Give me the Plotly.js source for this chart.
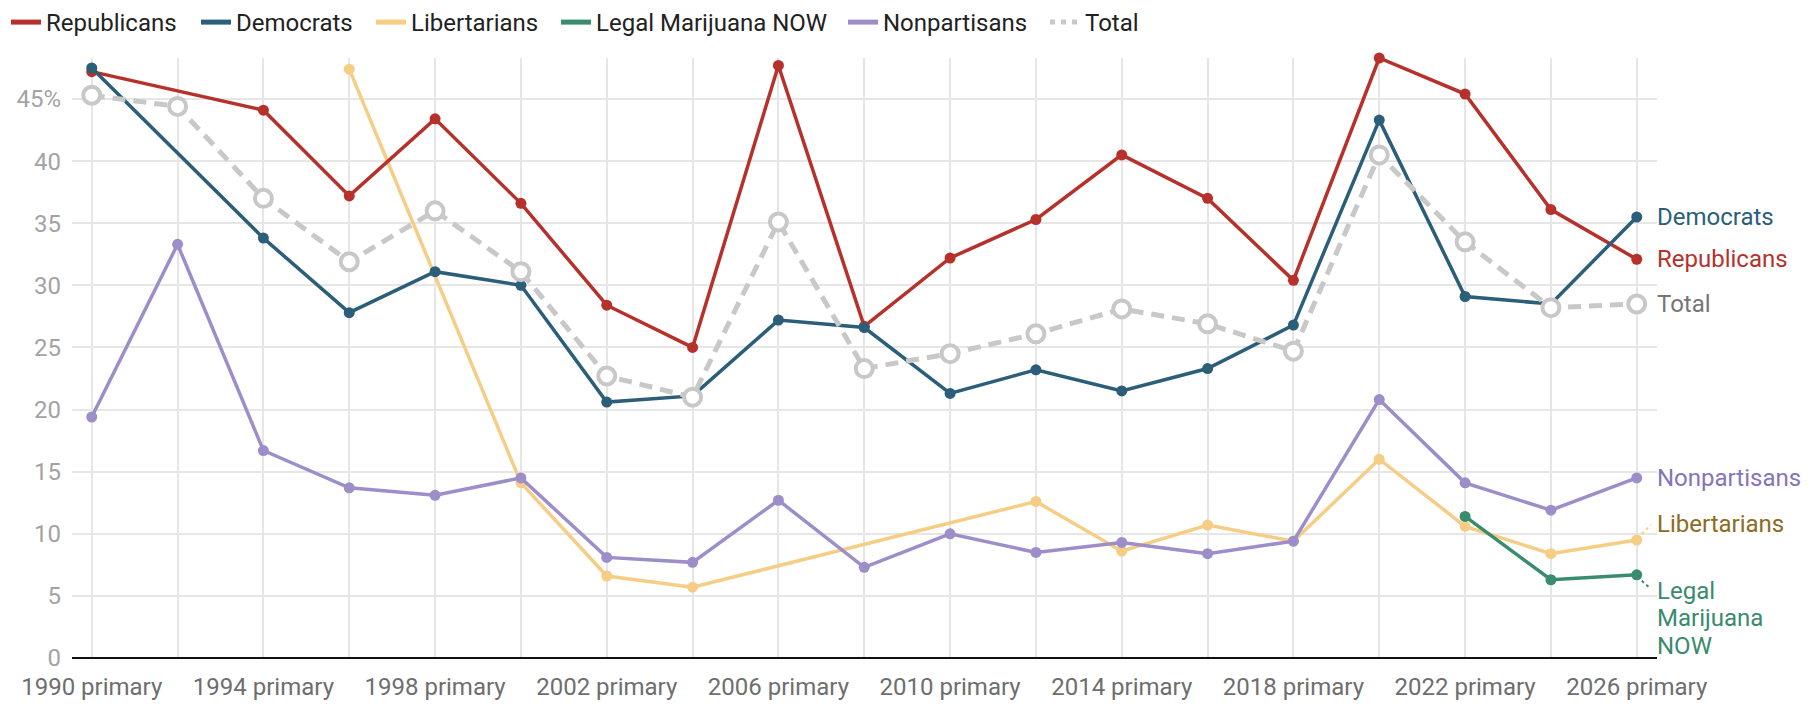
<!DOCTYPE html>
<html>
<head>
<meta charset="utf-8">
<script src="https://cdn.plot.ly/plotly-3.0.1.min.js"></script>
<style>
html,body{margin:0;padding:0;background:#fff;}
#chart{width:1816px;height:712px;}
</style>
</head>
<body>
<div id="chart"></div>
<script>
// ---- data ----
const categories = ["1990 primary","1992 primary","1994 primary","1996 primary","1998 primary","2000 primary","2002 primary","2004 primary","2006 primary","2008 primary","2010 primary","2012 primary","2014 primary","2016 primary","2018 primary","2020 primary","2022 primary","2024 primary","2026 primary"];
const tickLabels = ["1990 primary","","1994 primary","","1998 primary","","2002 primary","","2006 primary","","2010 primary","","2014 primary","","2018 primary","","2022 primary","","2026 primary"];
const republicans = [47.2,null,44.1,37.2,43.4,36.6,28.4,25.0,47.7,26.7,32.2,35.3,40.5,37.0,30.4,48.3,45.4,36.1,32.1];
const democrats   = [47.5,null,33.8,27.8,31.1,30.0,20.6,21.1,27.2,26.6,21.3,23.2,21.5,23.3,26.8,43.3,29.1,28.5,35.5];
const libertarians = [null,null,null,47.4,null,14.1,6.6,5.7,null,null,null,12.6,8.6,10.7,9.4,16.0,10.6,8.4,9.5];
const legalMarijuana = [null,null,null,null,null,null,null,null,null,null,null,null,null,null,null,null,11.4,6.3,6.7];
const nonpartisans = [19.4,33.3,16.7,13.7,13.1,14.5,8.1,7.7,12.7,7.3,10.0,8.5,9.3,8.4,9.4,20.8,14.1,11.9,14.5];
const total = [45.3,44.4,37.0,31.9,36.0,31.1,22.7,21.0,35.1,23.3,24.5,26.1,28.1,26.9,24.7,40.5,33.5,28.2,28.5];
const yTickVals = [0,5,10,15,20,25,30,35,40,45];
const yTickText = ["0","5","10","15","20","25","30","35","40","45%"];

// ---- styles ----
const FONT = "Roboto, 'Open Sans', sans-serif";
const series = [
  {name:"Libertarians", y:libertarians, color:"#f6cd84"},
  {name:"Legal Marijuana NOW", y:legalMarijuana, color:"#3a8c6f"},
  {name:"Nonpartisans", y:nonpartisans, color:"#9d8ec9"},
  {name:"Republicans", y:republicans, color:"#b7312c"},
  {name:"Democrats", y:democrats, color:"#2b5e79"}
];

const traces = [];
series.forEach(s => {
  traces.push({
    type:"scatter", mode:"lines+markers", x:categories, y:s.y, name:s.name,
    connectgaps:true, showlegend:false, hoverinfo:"skip", cliponaxis:false,
    line:{color:s.color, width:3.5},
    marker:{color:s.color, size:11}
  });
});
// Total on top
traces.push({
  type:"scatter", mode:"lines+markers", x:categories, y:total, name:"Total",
  connectgaps:true, showlegend:false, hoverinfo:"skip", cliponaxis:false,
  line:{color:"#c8c8c8", width:5, dash:"13px,8px"},
  marker:{color:"#ffffff", size:17, line:{color:"#c8c8c8", width:4}}
});

// legend-only entries, each in its own legend box so spacing matches
const legendItems = [
  {name:"Republicans", color:"#b7312c", left:14},
  {name:"Democrats", color:"#2b5e79", left:204},
  {name:"Libertarians", color:"#f6cd84", left:379},
  {name:"Legal Marijuana NOW", color:"#3a8c6f", left:564},
  {name:"Nonpartisans", color:"#9d8ec9", left:851},
  {name:"Total", color:"#c8c8c8", left:1053, dash:"5px,6px"}
];
const W = 1816;
const layout = {
  width:W, height:712,
  margin:{l:72, r:159, t:58, b:54},
  paper_bgcolor:"#fff", plot_bgcolor:"#fff",
  font:{family:FONT, size:24, color:"#222"},
  showlegend:true,
  xaxis:{type:"category", categoryorder:"array", categoryarray:categories,
         range:[-0.23, categories.length - 1 + 0.236], tickvals:categories, ticktext:tickLabels,
         showgrid:true, gridcolor:"#e6e6e6", gridwidth:2, ticks:"", showline:false, zeroline:false,
         tickfont:{family:FONT, size:24, color:"#6e6e6e"}, ticklabelstandoff:12, fixedrange:true},
  yaxis:{range:[0, 48.3], tickvals:yTickVals, ticktext:yTickText,
         showgrid:true, gridcolor:"#e6e6e6", gridwidth:2, ticks:"",
         zeroline:true, zerolinecolor:"#111", zerolinewidth:2.5,
         tickfont:{family:FONT, size:24, color:"#a3a3a3"}, ticklabelstandoff:10, fixedrange:true}
};
legendItems.forEach((l, i) => {
  const key = i === 0 ? "legend" : "legend" + (i + 1);
  traces.push({
    type:"scatter", mode:"lines", x:[null], y:[null], name:l.name,
    legend:key, hoverinfo:"skip",
    line:{color:l.color, width:5, dash:l.dash || "solid"}
  });
  layout[key] = {orientation:"h", xref:"container", yref:"container",
    x:(l.left - 8) / W, y:1, xanchor:"left", yanchor:"top",
    font:{family:FONT, size:24, color:"#222"}, bgcolor:"rgba(0,0,0,0)",
    itemclick:false, itemdoubleclick:false};
});

// ---- end labels ----
const last = categories.length - 1;
const lastVal = arr => arr[arr.length - 1];
const annotations = [];
function endLabel(text, val, color, yshift){
  annotations.push({
    x:last, y:val, xref:"x", yref:"y", text:text, showarrow:false,
    xanchor:"left", yanchor:"middle", xshift:18, yshift:yshift,
    font:{family:FONT, size:24, color:color}
  });
}
endLabel("Democrats", lastVal(democrats), "#2b5e79", 0);
endLabel("Republicans", lastVal(republicans), "#b7312c", 0);
endLabel("Total", lastVal(total), "#767676", 0);
endLabel("Nonpartisans", lastVal(nonpartisans), "#8575b8", 0);
endLabel("Libertarians", lastVal(libertarians), "#8e6a22", 16);
endLabel("Legal", lastVal(legalMarijuana), "#3a8a6e", -16);
endLabel("Marijuana", lastVal(legalMarijuana), "#3a8a6e", -43.5);
endLabel("NOW", lastVal(legalMarijuana), "#3a8a6e", -71);
layout.annotations = annotations;

layout.shapes = [
  {type:"line", xref:"x", yref:"y", xsizemode:"pixel", ysizemode:"pixel",
   xanchor:last, yanchor:lastVal(libertarians), x0:5, x1:14, y0:6, y1:15,
   line:{color:"#f6cd84", width:2, dash:"dot"}},
  {type:"line", xref:"x", yref:"y", xsizemode:"pixel", ysizemode:"pixel",
   xanchor:last, yanchor:lastVal(legalMarijuana), x0:5, x1:14, y0:-6, y1:-14,
   line:{color:"#3a8c6f", width:2, dash:"dot"}}
];

Plotly.newPlot("chart", traces, layout, {displayModeBar:false, staticPlot:true});
</script>
</body>
</html>
